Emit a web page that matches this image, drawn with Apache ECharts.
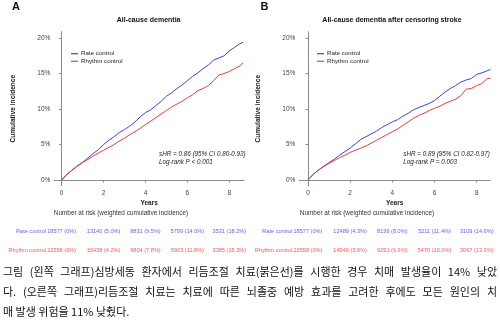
<!DOCTYPE html>
<html><head><meta charset="utf-8">
<script src="https://cdn.jsdelivr.net/npm/echarts@6/dist/echarts.min.js"></script>
<style>html,body{margin:0;padding:0;background:#fff}#c{width:500px;height:330px}</style>
</head><body><div id="c"></div>
<script>
// ---- data ----
const years = [0,0.25,0.5,0.75,1,1.25,1.5,1.75,2,2.25,2.5,2.75,3,3.25,3.5,3.75,4,4.25,4.5,4.75,5,5.25,5.5,5.75,6,6.25,6.5,6.75,7,7.25,7.5,7.75,8,8.25,8.5,8.65];
const rateA   = [0,0.8,1.4,2.0,2.5,3.1,3.7,4.3,5.0,5.6,6.1,6.7,7.1,7.6,8.2,8.9,9.5,9.9,10.5,11.1,11.8,12.3,12.9,13.4,14.0,14.6,15.1,15.7,16.2,16.9,17.2,17.5,18.2,18.7,19.2,19.4];
const rhythmA = [0,0.8,1.4,1.95,2.45,2.9,3.35,3.8,4.2,4.6,5.0,5.5,5.9,6.4,6.8,7.3,7.8,8.3,8.8,9.3,9.8,10.3,10.7,11.1,11.6,12.0,12.6,12.9,13.3,14.0,14.8,15.0,15.3,15.7,16.1,16.5];
const rateB   = [0,0.8,1.4,1.95,2.45,2.95,3.5,4.0,4.5,5.1,5.7,6.1,6.5,6.9,7.4,7.8,8.2,8.5,9.0,9.4,9.9,10.2,10.5,10.8,11.2,11.8,12.4,12.9,13.3,13.8,14.1,14.3,14.9,15.1,15.4,15.6];
const rhythmB = [0,0.8,1.4,1.9,2.35,2.75,3.15,3.5,3.9,4.2,4.5,4.8,5.2,5.6,6.0,6.4,6.8,7.2,7.7,8.2,8.7,9.1,9.4,9.8,10.1,10.4,10.8,11.1,11.4,11.9,12.8,12.9,13.3,13.6,14.3,14.3];

const riskYears = [0,2,4,6,8];
const rateNA = [18577,13140,8831,5799,3531];
const rateCumA = [0,5.0,9.5,14.0,18.2];
const rhythmNA = [22558,15438,9804,5903,3385];
const rhythmCumA = [0,4.2,7.8,11.8,15.3];
const rateNB = [18577,12489,8136,5211,3109];
const rateCumB = [0,4.3,8.0,11.4,14.6];
const rhythmNB = [22558,14940,9291,5470,3067];
const rhythmCumB = [0,3.6,6.6,10.0,13.3];

const xTicks = [0,2,4,6,8];
const yTicks = [0,5,10,15,20];
const groups = ['Rate control','Rhythm control'];
const titleA = 'All-cause dementia';
const titleB = 'All-cause dementia after censoring stroke';
const statsA = ['sHR = 0.86 (95% CI 0.80-0.93)','Log-rank P < 0.001'];
const statsB = ['sHR = 0.89 (95% CI 0.82-0.97)','Log-rank P = 0.003'];
const caption = [
 '그림 (왼쪽 그래프)심방세동 환자에서 리듬조절 치료(붉은선)를 시행한 경우 치매 발생율이 14% 낮았',
 '다. (오른쪽 그래프)리듬조절 치료는 치료에 따른 뇌졸중 예방 효과를 고려한 후에도 모든 원인의 치',
 '매 발생 위험을 11% 낮췄다.'
];

// ---- styles ----
const BLUE = '#4040e0', RED = '#f03a3a';
const TBLUE = '#3a3ae8', TRED = '#f23030';
const FF = '"Liberation Sans", Arial, sans-serif';
const AX = '#8a8a8a';

const pairs = (xs, ys) => xs.map((x,i)=>[x, ys[i]]);
const fmtRisk = (n,c) => n + ' (' + (c===0 ? '0' : c.toFixed(1)) + '%)';

const panels = [
  {left:54.3, width:189.7, xmin:-0.35, xmax:8.7},
  {left:299.3, width:190.7, xmin:-0.41, xmax:8.63}
];

const grid = [], xAxis = [], yAxis = [], series = [];
panels.forEach((p,i)=>{
  grid.push({left:p.left, top:31.7, width:p.width, height:154, containLabel:false});
  xAxis.push({type:'value', gridIndex:i, min:p.xmin, max:p.xmax,
    name:'Years', nameLocation:'middle', nameGap:14,
    nameTextStyle:{fontFamily:FF, fontSize:6.5, fontWeight:'bold', color:'#222'},
    axisLine:{lineStyle:{color:AX, width:1}},
    axisTick:{customValues:xTicks, length:2.5, lineStyle:{color:AX}},
    axisLabel:{customValues:xTicks, fontFamily:FF, fontSize:6.5, color:'#444', margin:4},
    splitLine:{show:false}});
  yAxis.push({type:'value', gridIndex:i, min:-0.8, max:20.9,
    name:'Cumulative incidence', nameLocation:'middle', nameGap:38,
    nameTextStyle:{fontFamily:FF, fontSize:6.6, fontWeight:'bold', color:'#222'},
    axisLine:{show:true, lineStyle:{color:AX, width:1}},
    axisTick:{show:true, customValues:yTicks, length:2.5, lineStyle:{color:AX}},
    axisLabel:{customValues:yTicks, formatter:v=>v+'%', fontFamily:FF, fontSize:6.5, color:'#444', margin:4},
    splitLine:{show:false}});
  // risk table grids
  grid.push({left:p.left, top:222.6, width:p.width, height:37.4});
  xAxis.push({type:'value', gridIndex:i+2, min:p.xmin, max:p.xmax, show:false});
  yAxis.push({type:'category', gridIndex:i+2, data:groups, inverse:true, show:false});
});
// fix index mapping: grids pushed as [A, tableA, B, tableB]
// re-map gridIndex
xAxis[0].gridIndex=0; yAxis[0].gridIndex=0;
xAxis[1].gridIndex=1; yAxis[1].gridIndex=1;
xAxis[2].gridIndex=2; yAxis[2].gridIndex=2;
xAxis[3].gridIndex=3; yAxis[3].gridIndex=3;

function lineSeries(name, xs, ys, color, ai){
  return {type:'line', name, xAxisIndex:ai, yAxisIndex:ai, data:pairs(xs,ys),
    showSymbol:false, symbol:'none', lineStyle:{color, width:1}, itemStyle:{color},
    animation:false, clip:true};
}
series.push(lineSeries(groups[0], years, rateA, BLUE, 0));
series.push(lineSeries(groups[1], years, rhythmA, RED, 0));
series.push(lineSeries(groups[0], years, rateB, BLUE, 2));
series.push(lineSeries(groups[1], years, rhythmB, RED, 2));

function riskSeries(ai, grp, ns, cs, color){
  series.push({type:'scatter', name:'risk-'+ai+'-'+grp, xAxisIndex:ai, yAxisIndex:ai, symbolSize:0,
    animation:false, silent:true,
    data: riskYears.map((y,k)=>({value:[y, grp], txt: fmtRisk(ns[k], cs[k])})),
    label:{show:true, position:'inside', formatter:pp=>pp.data.txt, fontFamily:FF, fontSize:5.6, color}});
  series.push({type:'scatter', name:'rowname-'+ai+'-'+grp, xAxisIndex:ai, yAxisIndex:ai, symbolSize:0,
    animation:false, silent:true,
    data:[[0, grp]],
    label:{show:true, position:'left', distance:15.5, formatter:grp, fontFamily:FF, fontSize:5.6, color}});
}
riskSeries(1, groups[0], rateNA, rateCumA, TBLUE);
riskSeries(1, groups[1], rhythmNA, rhythmCumA, TRED);
riskSeries(3, groups[0], rateNB, rateCumB, TBLUE);
riskSeries(3, groups[1], rhythmNB, rhythmCumB, TRED);

// grids order: A main, A table, B main, B table -> axes index 0..3 correspond
const legendBase = {orient:'vertical', itemWidth:7, itemHeight:1.2, itemGap:0, icon:'rect',
  data:groups, selectedMode:false,
  textStyle:{fontFamily:FF, fontSize:6.2, color:'#222', lineHeight:7.5, padding:[0,0,0,-2]}};

const graphic = [
  {type:'text', left:12, top:1, style:{text:'A', font:'bold 11px '+FF, fill:'#111'}},
  {type:'text', left:260.5, top:1, style:{text:'B', font:'bold 11px '+FF, fill:'#111'}},
  {type:'text', x:148.6, y:20, style:{text:titleA, font:'bold 7px '+FF, fill:'#111', align:'center', verticalAlign:'middle'}},
  {type:'text', x:392, y:20, style:{text:titleB, font:'bold 7px '+FF, fill:'#111', align:'center', verticalAlign:'middle'}},
  {type:'text', x:159, y:154.3, style:{text:statsA[0], font:'italic 6.3px '+FF, fill:'#222', verticalAlign:'middle'}},
  {type:'text', x:159, y:162.3, style:{text:statsA[1], font:'italic 6.3px '+FF, fill:'#222', verticalAlign:'middle'}},
  {type:'text', x:403.3, y:154.3, style:{text:statsB[0], font:'italic 6.3px '+FF, fill:'#222', verticalAlign:'middle'}},
  {type:'text', x:403.3, y:162.3, style:{text:statsB[1], font:'italic 6.3px '+FF, fill:'#222', verticalAlign:'middle'}},
  {type:'text', x:121, y:213, style:{text:'Number at risk (weighted cumulative incidence)', font:'6.4px '+FF, fill:'#333', align:'center', verticalAlign:'middle'}},
  {type:'text', x:367, y:213, style:{text:'Number at risk (weighted cumulative incidence)', font:'6.4px '+FF, fill:'#333', align:'center', verticalAlign:'middle'}}
];

// caption, lines 1-2 justified
const CF = '11px "Noto Sans CJK KR"';
const cv = document.createElement('canvas').getContext('2d');
cv.font = CF;
const capY = [271.5, 292, 312.2];
const X0 = 3, X1 = 497;
caption.forEach((line, li)=>{
  if (li < 2) {
    const words = line.split(' ');
    const ws = words.map(w=>cv.measureText(w).width);
    const tot = ws.reduce((a,b)=>a+b,0);
    const gap = (X1 - X0 - tot) / (words.length - 1);
    let x = X0;
    words.forEach((w,k)=>{
      graphic.push({type:'text', x:x, y:capY[li], style:{text:w, font:CF, fill:'#111', verticalAlign:'middle'}});
      x += ws[k] + gap;
    });
  } else {
    graphic.push({type:'text', x:X0, y:capY[li], style:{text:line, font:CF, fill:'#111', verticalAlign:'middle'}});
  }
});

const chart = echarts.init(document.getElementById('c'), null, {renderer:'canvas'});
chart.setOption({
  animation:false,
  grid: grid,
  xAxis: xAxis,
  yAxis: yAxis,
  legend: [
    Object.assign({}, legendBase, {left:66, top:45}),
    Object.assign({}, legendBase, {left:312, top:45})
  ],
  series: series,
  graphic: graphic
});
</script></body></html>
